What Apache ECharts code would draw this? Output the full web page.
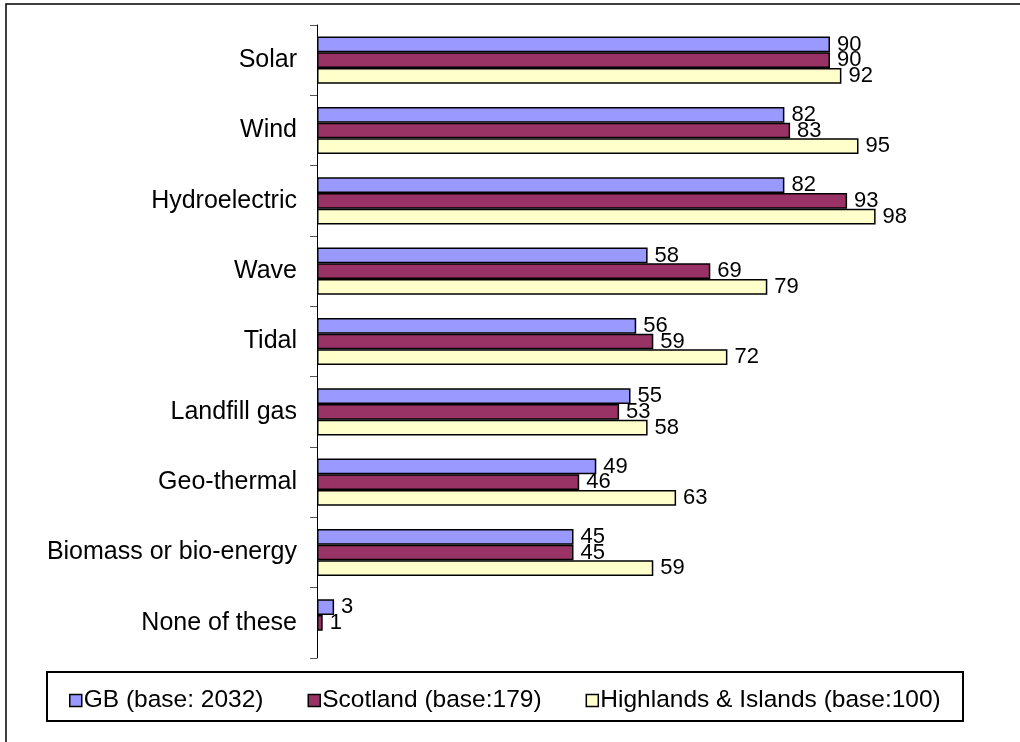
<!DOCTYPE html>
<html>
<head>
<meta charset="utf-8">
<title>Renewable energy awareness</title>
<script src="https://cdn.jsdelivr.net/npm/echarts@6/dist/echarts.min.js"></script>
<style>
  html, body { margin: 0; padding: 0; background: #fff; }
  #chart { width: 1020px; height: 742px; }
</style>
</head>
<body>
<div id="chart"></div>
<script>
// Energy sources, listed top to bottom
const categories = ['Solar', 'Wind', 'Hydroelectric', 'Wave', 'Tidal', 'Landfill gas', 'Geo-thermal', 'Biomass or bio-energy', 'None of these'];

// Percentages per region
const gbValues = [90, 82, 82, 58, 56, 55, 49, 45, 3];
const scotlandValues = [90, 83, 93, 69, 59, 53, 46, 45, 1];
const highlandsValues = [92, 95, 98, 79, 72, 58, 63, 59, 0];

const seriesNames = ['GB (base: 2032)', 'Scotland (base:179)', 'Highlands & Islands (base:100)'];
const seriesColors = ['#9999FF', '#993366', '#FFFFCC'];

const FONT = 'Liberation Sans, Arial, sans-serif';

const chart = echarts.init(document.getElementById('chart'), null, { renderer: 'canvas' });

function makeSeries(name, data, color) {
  return {
    name: name,
    type: 'bar',
    data: data.map(v => (v === 0 ? null : v)),
    barGap: '0%',
    barCategoryGap: '33%',
    itemStyle: { color: color, borderColor: '#000', borderWidth: 1.5 },
    label: {
      show: true,
      position: 'right',
      distance: 7,
      color: '#000',
      fontFamily: FONT,
      fontSize: 22
    },
    animation: false
  };
}

chart.setOption({
  backgroundColor: '#fff',
  animation: false,
  grid: { left: 317, right: 133, top: 25, bottom: 84, containLabel: false },
  xAxis: {
    type: 'value',
    min: 0,
    max: 100,
    show: false
  },
  yAxis: {
    type: 'category',
    data: categories,
    inverse: true,
    axisLine: { show: true, lineStyle: { color: '#000', width: 1 } },
    axisTick: { show: true, length: 7, lineStyle: { color: '#555' } },
    axisLabel: { color: '#000', fontFamily: FONT, fontSize: 25, margin: 20 },
    splitLine: { show: false }
  },
  legend: {
    left: 64,
    top: 683,
    itemWidth: 12,
    itemHeight: 12,
    itemGap: 44,
    icon: 'rect',
    textStyle: { color: '#000', fontFamily: FONT, fontSize: 24.5, padding: [0, 0, 0, -3] },
    itemStyle: { borderColor: '#000', borderWidth: 1.5 },
    data: seriesNames
  },
  graphic: [
    {
      type: 'rect',
      shape: { x: 6, y: 4, width: 1100, height: 800 },
      style: { fill: 'none', stroke: '#000', lineWidth: 1.5 },
      silent: true
    },
    {
      type: 'rect',
      shape: { x: 47, y: 672, width: 916, height: 49 },
      style: { fill: 'none', stroke: '#000', lineWidth: 2 },
      silent: true
    }
  ],
  series: [
    makeSeries(seriesNames[0], gbValues, seriesColors[0]),
    makeSeries(seriesNames[1], scotlandValues, seriesColors[1]),
    makeSeries(seriesNames[2], highlandsValues, seriesColors[2])
  ]
});
</script>
</body>
</html>
